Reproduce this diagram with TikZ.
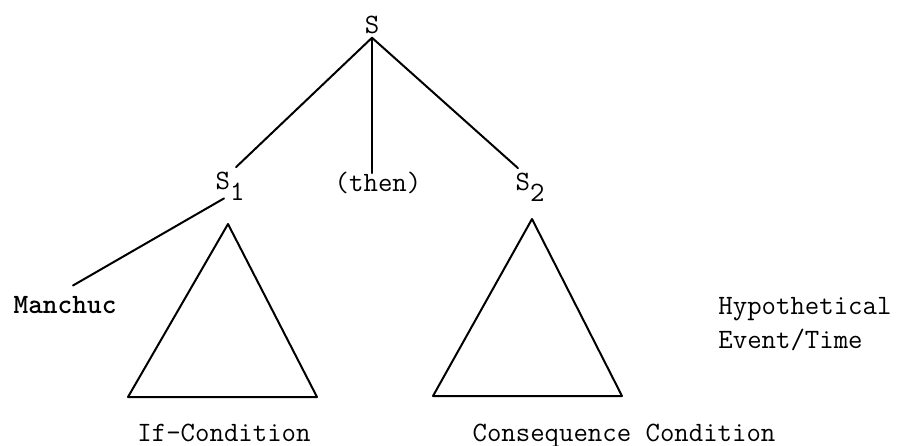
\documentclass[tikz,border=0pt]{standalone}
\usepackage{fontspec}
\usepackage{tikz}
\usetikzlibrary{positioning}
\newcommand{\lowsub}[1]{\raisebox{-5.5pt}{#1}}
\tikzset{
  word/.style   ={inner sep=2pt, font=\ttfamily\fontsize{14}{17}\selectfont},
  boldword/.style={inner sep=2pt, font=\ttfamily\bfseries\fontsize{14}{17}\selectfont},
  branch/.style ={line width=1pt, line cap=round},
  subtree/.style={line width=1pt, line join=round},
}
\begin{document}
\begin{tikzpicture}[x=0.5pt, y=-0.5pt]
  \useasboundingbox (0,0) rectangle (899,445);
  % ---- top of the tree
  \node[word, anchor=base] (s)   at (372,33)  {S};
  \node[word, anchor=base] (s1)  at (230,189) {S\lowsub{1}};
  \node[word, anchor=base] (thn) at (378,191) {(then)};
  \node[word, anchor=base] (s2)  at (530,190) {S\lowsub{2}};
  \draw[branch] (s.south) -- ([xshift=3pt]s1.north);
  \draw[branch] (s.south) -- ([yshift=-3pt]s.south |- thn.north);
  \draw[branch] (s.south) -- ([xshift=-6pt]s2.north);
  % ---- left daughter: experiencer and if-clause
  \node[boldword, anchor=base] (man) at (65,313) {Manchuc};
  \draw[branch] ([xshift=-3pt,yshift=3pt]s1.south) -- ([xshift=4pt,yshift=3pt]man.north);
  \draw[subtree] (228,224) -- (128,397) -- (317,397) -- cycle;
  \node[word, anchor=base] (ifc) at (224,441) {If-Condition};
  % ---- right daughter: consequence
  \draw[subtree] (532,219) -- (433,396) -- (622,396) -- cycle;
  \node[word, anchor=base] (cons) at (624,441) {Consequence Condition};
  \node[word, anchor=base west] (hyp) at (714,314) {Hypothetical};
  \node[word, anchor=base west] (evt) at (714,348) {Event/Time};
\end{tikzpicture}
\end{document}
